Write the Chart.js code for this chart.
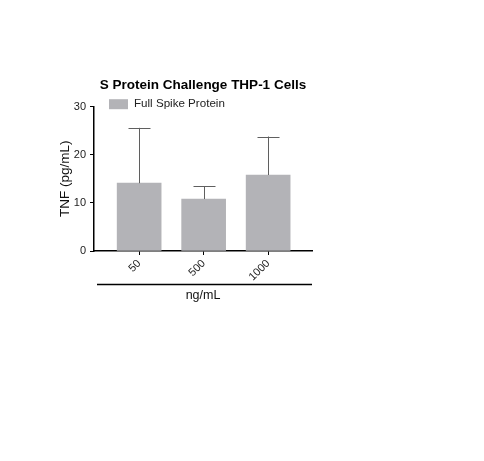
<!DOCTYPE html>
<html>
<head>
<meta charset="utf-8">
<script src="https://cdn.jsdelivr.net/npm/chart.js@4/dist/chart.umd.min.js"></script>
<style>
  html, body { margin: 0; padding: 0; background: #fff; }
  #wrap { width: 484px; height: 461px; }
</style>
</head>
<body>
<div id="wrap"><canvas id="tnfChart"></canvas></div>
<script>
// data
const categories = ['50', '500', '1000'];
const tnfMean = [14.1, 10.8, 15.8];
const tnfErr = [11.5, 2.7, 8.0];
const yTicks = [0, 10, 20, 30];
const seriesName = 'Full Spike Protein';
const chartTitle = 'S Protein Challenge THP-1 Cells';

const FONT = '"Liberation Sans", Arial, Helvetica, sans-serif';
const BAR_COLOR = '#b3b3b7';

// error bars (upper only, with cap), title, legend and the group line under the x axis
const extrasPlugin = {
    id: 'extras',
    afterDatasetsDraw(chart) {
        const ctx = chart.ctx;
        const x = chart.scales.x;
        const y = chart.scales.y;
        ctx.save();
        ctx.strokeStyle = '#5f5f5f';
        ctx.lineWidth = 1;
        tnfMean.forEach((v, i) => {
            const px = Math.round(x.getPixelForValue(i + 1)) + 0.5;
            const top = y.getPixelForValue(v + tnfErr[i]);
            const base = y.getPixelForValue(v);
            ctx.beginPath();
            ctx.moveTo(px, base);
            ctx.lineTo(px, top);
            ctx.moveTo(px - 11, Math.round(top) + 0.5);
            ctx.lineTo(px + 11, Math.round(top) + 0.5);
            ctx.stroke();
        });
        ctx.restore();
    },
    afterDraw(chart) {
        const ctx = chart.ctx;
        const area = chart.chartArea;
        ctx.save();
        // title
        ctx.fillStyle = '#000';
        ctx.font = 'bold 13.5px ' + FONT;
        ctx.textAlign = 'center';
        ctx.textBaseline = 'middle';
        ctx.fillText(chartTitle, (area.left + area.right) / 2, 85);
        // legend
        ctx.fillStyle = BAR_COLOR;
        ctx.fillRect(area.left + 15, area.top - 7.5, 19, 10);
        ctx.fillStyle = '#222';
        ctx.font = '11.6px ' + FONT;
        ctx.textAlign = 'left';
        ctx.fillText(seriesName, area.left + 40, area.top - 2.5);
        // group line above the x title
        ctx.strokeStyle = '#000';
        ctx.lineWidth = 1.5;
        ctx.beginPath();
        ctx.moveTo(area.left + 3, 284.5);
        ctx.lineTo(area.right, 284.5);
        ctx.stroke();
        ctx.restore();
    }
};

const config = {
    type: 'bar',
    data: {
        datasets: [{
            label: seriesName,
            data: tnfMean.map((v, i) => ({ x: i + 1, y: v })),
            backgroundColor: BAR_COLOR,
            borderWidth: 0,
            barThickness: 44,
        }],
    },
    options: {
        responsive: true,
        maintainAspectRatio: false,
        animation: false,
        layout: { padding: { left: 0, top: 106.7, right: 172, bottom: 150 } },
        plugins: {
            legend: { display: false },
            title: { display: false },
            tooltip: { enabled: false },
        },
        scales: {
            x: {
                type: 'linear',
                offset: false,
                min: 0.3,
                max: 3.68,
                afterBuildTicks: (scale) => {
                    scale.ticks = categories.map((c, i) => ({ value: i + 1 }));
                },
                afterFit: (scale) => { scale.height = 60; },
                grid: {
                    offset: false,
                    drawOnChartArea: false,
                    drawTicks: true,
                    tickLength: 4,
                    tickColor: '#000',
                },
                border: { color: '#000', width: 1.5 },
                ticks: {
                    autoSkip: false,
                    minRotation: 45,
                    maxRotation: 45,
                    padding: 2,
                    color: '#222',
                    font: { family: FONT, size: 11 },
                    callback: (v) => categories[v - 1],
                },
                title: {
                    display: true,
                    text: 'ng/mL',
                    color: '#111',
                    font: { family: FONT, size: 12.5 },
                    padding: { top: 0, bottom: 8 },
                },
            },
            y: {
                min: 0,
                max: 30,
                afterBuildTicks: (scale) => {
                    scale.ticks = yTicks.map(v => ({ value: v }));
                },
                afterFit: (scale) => { scale.width = 94; },
                grid: {
                    drawOnChartArea: false,
                    drawTicks: true,
                    tickLength: 4,
                    tickColor: '#000',
                },
                border: { color: '#000', width: 1.5 },
                ticks: {
                    padding: 4,
                    color: '#222',
                    font: { family: FONT, size: 11 },
                },
                title: {
                    display: true,
                    text: 'TNF (pg/mL)',
                    color: '#111',
                    font: { family: FONT, size: 13.5 },
                    padding: { top: 57, bottom: 0 },
                },
            },
        },
    },
    plugins: [extrasPlugin],
};

new Chart(document.getElementById('tnfChart').getContext('2d'), config);
</script>
</body>
</html>
